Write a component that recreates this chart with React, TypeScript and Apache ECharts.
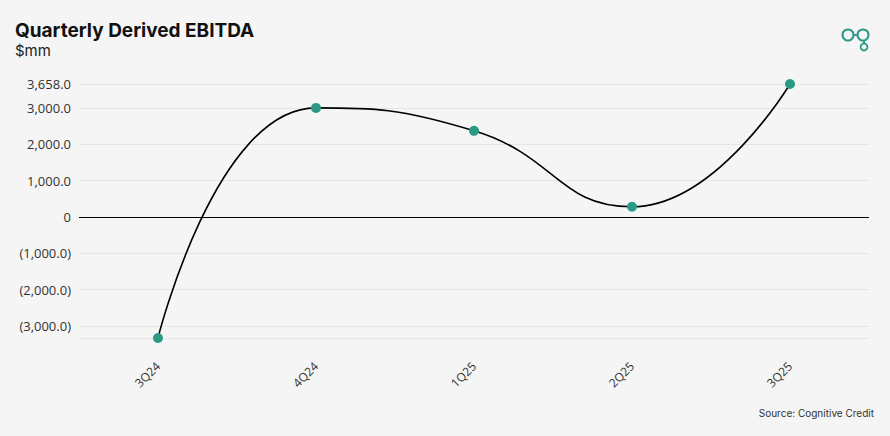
import React, { useEffect, useRef } from "react";
import * as echarts from "echarts";

const categories = ["3Q24", "4Q24", "1Q25", "2Q25", "3Q25"];
const ebitda = [-3330, 3000, 2370, 280, 3658];

const teal = "#2a9a86";

function fmt(v: number): string {
  if (v === 0) return "0";
  const s = Math.abs(v).toLocaleString("en-US", { minimumFractionDigits: 1, maximumFractionDigits: 1 });
  return v < 0 ? "(" + s + ")" : s;
}

export default function App() {
  const ref = useRef<HTMLDivElement>(null);
  useEffect(() => {
    if (!ref.current) return;
    const chart = echarts.init(ref.current, null, { renderer: "svg" });
    chart.setOption({
      animation: false,
      backgroundColor: "#f5f5f5",
      title: {
        text: "Quarterly Derived EBITDA",
        subtext: "$mm",
        left: 10,
        top: 16,
        itemGap: 3,
        textStyle: { fontFamily: "Inter", fontWeight: "bold", fontSize: 19, color: "#111" },
        subtextStyle: { fontFamily: "Inter", fontSize: 15, color: "#222" },
      },
      graphic: [
        { type: "circle", shape: { cx: 848, cy: 35, r: 5.5 }, style: { fill: "none", stroke: teal, lineWidth: 2 } },
        { type: "circle", shape: { cx: 863, cy: 35, r: 5.5 }, style: { fill: "none", stroke: teal, lineWidth: 2 } },
        { type: "line", shape: { x1: 853.5, y1: 35, x2: 857.5, y2: 35 }, style: { stroke: teal, lineWidth: 2 } },
        { type: "line", shape: { x1: 864, y1: 40.5, x2: 864, y2: 43.5 }, style: { stroke: teal, lineWidth: 2 } },
        { type: "circle", shape: { cx: 864, cy: 47, r: 3.5 }, style: { fill: "none", stroke: teal, lineWidth: 1.8 } },
        {
          type: "text",
          right: 16,
          top: 408,
          style: { text: "Source: Cognitive Credit", fontFamily: "Inter", fontSize: 10, fill: "#333" },
        },
      ],
      grid: { left: 79, right: 21, top: 84, bottom: 98, containLabel: false },
      xAxis: {
        type: "category",
        data: categories,
        axisLine: { show: false, onZero: false },
        axisTick: { show: false },
        axisLabel: { rotate: 45, margin: 26, fontFamily: "Open Sans", fontSize: 12, color: "#333" },
        splitLine: { show: false },
      },
      yAxis: {
        type: "value",
        min: "dataMin",
        max: "dataMax",
        splitNumber: 7,
        axisLine: { show: false },
        axisTick: { show: false },
        axisLabel: {
          showMinLabel: false,
          margin: 8,
          fontFamily: "Open Sans",
          fontSize: 13,
          color: "#333",
          formatter: (v: number) => fmt(v),
        },
        splitLine: { lineStyle: { color: "#e6e6e6", width: 1 } },
      },
      series: [
        {
          type: "line",
          data: ebitda,
          smooth: 0.5,
          symbol: "circle",
          symbolSize: 10,
          itemStyle: { color: teal },
          lineStyle: { color: "#000", width: 1.6 },
          z: 3,
          markLine: {
            silent: true,
            symbol: "none",
            label: { show: false },
            lineStyle: { color: "#000", type: "solid", width: 1 },
            data: [{ yAxis: 0 }],
            z: 2,
          },
        },
      ],
    });
    return () => chart.dispose();
  }, []);
  return <div ref={ref} style={{ position: "fixed", left: 0, top: 0, width: 890, height: 436 }} />;
}
